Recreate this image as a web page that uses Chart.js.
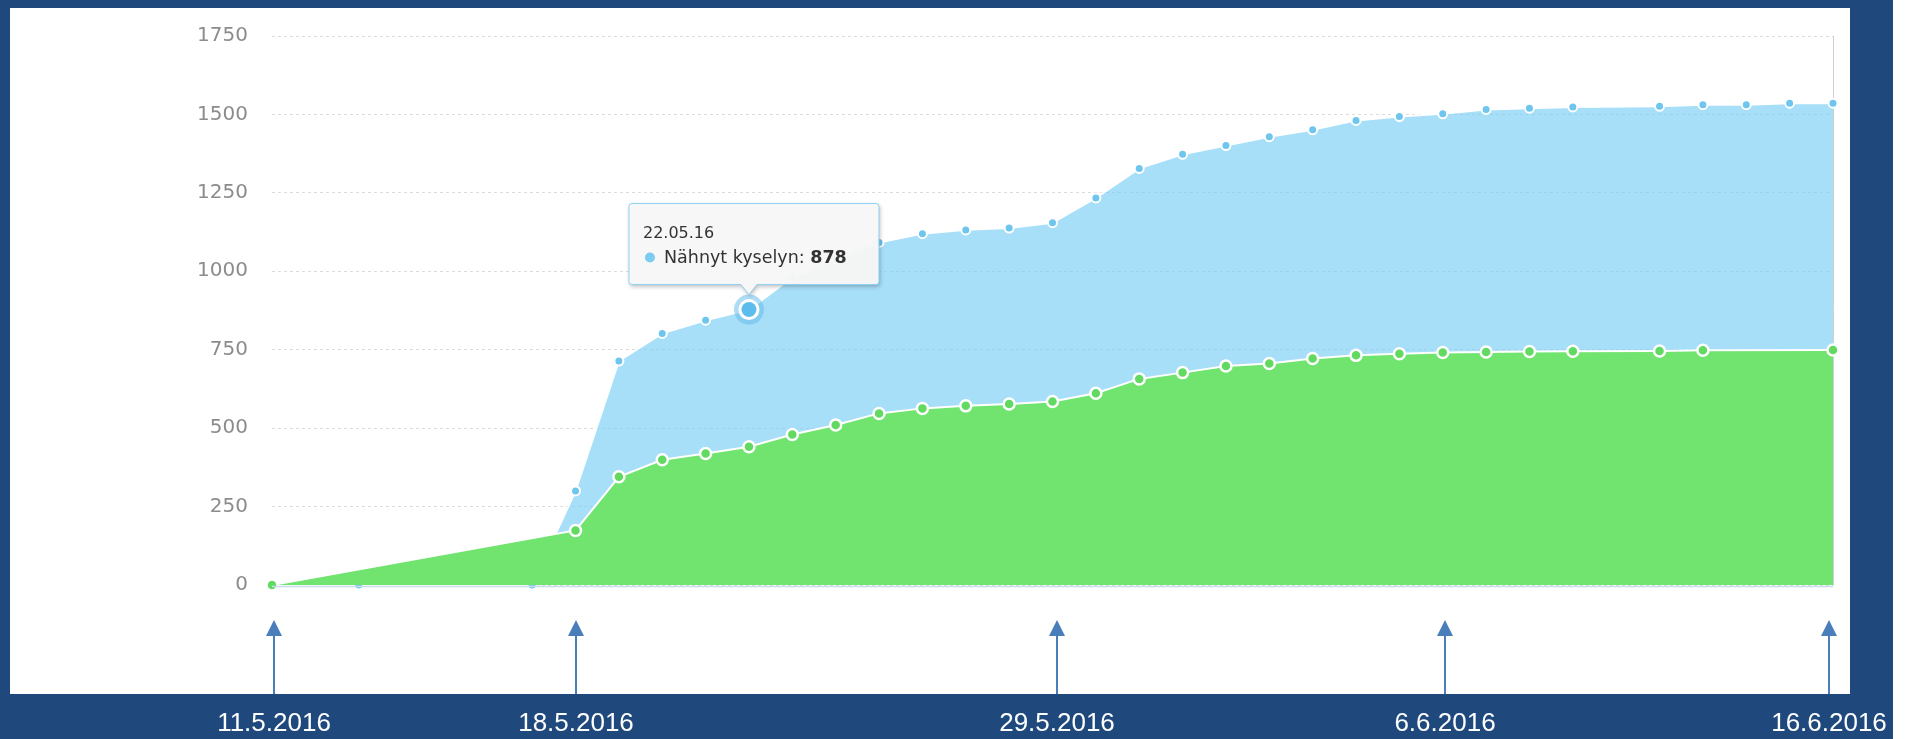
<!DOCTYPE html>
<html><head><meta charset="utf-8">
<script src="https://cdn.jsdelivr.net/npm/chart.js@4.4.1/dist/chart.umd.min.js"></script>
<style>
html,body{margin:0;padding:0;width:1914px;height:739px;overflow:hidden;background:#ffffff;}
#bg{position:absolute;left:0;top:0;width:1893px;height:739px;background:#1f497d;}
#panel{position:absolute;left:10px;top:8px;width:1840px;height:686px;background:#ffffff;}
#c{position:absolute;left:0;top:0;}
</style></head><body>
<div id="bg"></div><div id="panel"></div>
<canvas id="c" width="1914" height="739"></canvas>
<script>
// Days from 11.05.16 to 16.06.16
const dates = ['11.05.16','12.05.16','13.05.16','14.05.16','15.05.16','16.05.16','17.05.16','18.05.16','19.05.16','20.05.16',
  '21.05.16','22.05.16','23.05.16','24.05.16','25.05.16','26.05.16','27.05.16','28.05.16','29.05.16','30.05.16',
  '31.05.16','01.06.16','02.06.16','03.06.16','04.06.16','05.06.16','06.06.16','07.06.16','08.06.16','09.06.16',
  '10.06.16','11.06.16','12.06.16','13.06.16','14.06.16','15.06.16','16.06.16'];
// "Nähnyt kyselyn" (seen the survey)
const seenValues = [0,null,0,null,null,null,0,300,714,802,
  844,878,980,1040,1092,1120,1132,1138,1155,1234,
  1328,1373,1401,1429,1451,1481,1493,1502,1516,1520,
  1524,null,1526,1531,1531,1536,1536];
// answered
const answeredValues = [0,null,null,null,null,null,null,174,345,399,
  419,441,480,510,547,563,571,577,585,611,
  657,677,698,706,722,732,737,741,743,744,
  745,null,746,748,null,null,749];
const yTicks = [0,250,500,750,1000,1250,1500,1750];
const seenLabel = 'Nähnyt kyselyn';
const answeredLabel = 'Vastannut';
const tooltipIndex = 11;
const arrowLabels = ['11.5.2016','18.5.2016','29.5.2016','6.6.2016','16.6.2016'];
const arrowPositions = [0.05, 7, 18.1, 27.05, 35.9];

const overlay = {
  id:'overlay',
  beforeDatasetsDraw(chart){
    const {ctx, chartArea, scales:{x}} = chart;
    const xe = x.getPixelForValue(dates.length-1);
    ctx.save();
    ctx.strokeStyle = '#d0d0d0'; ctx.lineWidth = 1;
    ctx.beginPath(); ctx.moveTo(Math.round(xe)+0.5, chartArea.top); ctx.lineTo(Math.round(xe)+0.5, chartArea.bottom); ctx.stroke();
    ctx.restore();
  },
  afterDatasetsDraw(chart){
    const {ctx, chartArea, scales:{x,y}} = chart;
    ctx.save();
    // baseline
    const y0 = y.getPixelForValue(0);
    ctx.strokeStyle = '#c8dcec'; ctx.lineWidth = 1.5;
    ctx.beginPath(); ctx.moveTo(chartArea.left, y0+1.5); ctx.lineTo(chartArea.right, y0+1.5); ctx.stroke();

    // highlighted point
    const meta = chart.getDatasetMeta(1);
    const el = meta.data[tooltipIndex];
    const px = el.x, py = el.y;
    ctx.fillStyle = 'rgba(95,185,235,0.5)';
    ctx.beginPath(); ctx.arc(px, py, 15, 0, Math.PI*2); ctx.fill();
    ctx.fillStyle = '#ffffff';
    ctx.beginPath(); ctx.arc(px, py, 10.5, 0, Math.PI*2); ctx.fill();
    ctx.fillStyle = '#5cbdec';
    ctx.beginPath(); ctx.arc(px, py, 7.5, 0, Math.PI*2); ctx.fill();

    // tooltip
    const w = 250, h = 81;
    const cx = px + 5;
    const bottom = py - 25, top = bottom - h, left = cx - w/2, right = left + w;
    const r = 3;
    ctx.save();
    ctx.shadowColor = 'rgba(0,0,0,0.28)'; ctx.shadowOffsetX = 1; ctx.shadowOffsetY = 2; ctx.shadowBlur = 4;
    ctx.beginPath();
    ctx.moveTo(left+r, top);
    ctx.lineTo(right-r, top); ctx.quadraticCurveTo(right, top, right, top+r);
    ctx.lineTo(right, bottom-r); ctx.quadraticCurveTo(right, bottom, right-r, bottom);
    ctx.lineTo(px+8, bottom); ctx.lineTo(px, bottom+10); ctx.lineTo(px-8, bottom);
    ctx.lineTo(left+r, bottom); ctx.quadraticCurveTo(left, bottom, left, bottom-r);
    ctx.lineTo(left, top+r); ctx.quadraticCurveTo(left, top, left+r, top);
    ctx.closePath();
    ctx.fillStyle = 'rgba(249,249,249,0.96)';
    ctx.fill();
    ctx.restore();
    ctx.strokeStyle = '#8fd0f2'; ctx.lineWidth = 1;
    ctx.stroke();

    ctx.fillStyle = '#333333';
    ctx.textAlign = 'left'; ctx.textBaseline = 'alphabetic';
    ctx.font = '16px "DejaVu Sans"';
    ctx.fillText(dates[tooltipIndex], left+14, top+34);
    ctx.fillStyle = '#7ccbf0';
    ctx.beginPath(); ctx.arc(left+21, top+54, 5, 0, Math.PI*2); ctx.fill();
    ctx.fillStyle = '#333333';
    ctx.font = '17.5px "DejaVu Sans"';
    const t1 = seenLabel + ': ';
    ctx.fillText(t1, left+35, top+59);
    const tw = ctx.measureText(t1).width;
    ctx.font = 'bold 17.5px "DejaVu Sans"';
    ctx.fillText(String(seenValues[tooltipIndex]), left+35+tw, top+59);
    ctx.restore();
  },
  afterDraw(chart){
    const {ctx, scales:{x}} = chart;
    ctx.save();
    arrowPositions.forEach((pos, i) => {
      const ax = Math.round(x.getPixelForValue(pos));
      ctx.strokeStyle = '#4a7ebb'; ctx.lineWidth = 2;
      ctx.beginPath(); ctx.moveTo(ax, 634); ctx.lineTo(ax, 694); ctx.stroke();
      ctx.fillStyle = '#4a7ebb';
      ctx.beginPath(); ctx.moveTo(ax-8, 636); ctx.lineTo(ax+8, 636); ctx.lineTo(ax, 620); ctx.closePath(); ctx.fill();
      ctx.fillStyle = '#ffffff';
      ctx.font = '26px "Liberation Sans", Arial, sans-serif';
      ctx.textAlign = 'center'; ctx.textBaseline = 'alphabetic';
      ctx.fillText(arrowLabels[i], ax, 731);
    });
    ctx.restore();
  }
};

new Chart(document.getElementById('c'), {
  type:'line',
  data:{
    labels: dates,
    datasets:[
      {label: answeredLabel, data: answeredValues, fill:'origin', backgroundColor:'#70e46f',
       borderColor:'#ffffff', borderWidth:2, pointRadius:5.5, pointBorderWidth:2.5, pointBorderColor:'#ffffff',
       pointBackgroundColor:'#62da62', spanGaps:true, tension:0, clip:12},
      {label: seenLabel, data: seenValues, fill:'origin', backgroundColor:'rgba(120,205,245,0.65)',
       borderColor:'#ffffff', borderWidth:2, pointRadius:4.5, pointBorderWidth:2, pointBorderColor:'#ffffff',
       pointBackgroundColor:'#6ec6ee', spanGaps:true, tension:0, clip:12}
    ]
  },
  options:{
    responsive:false, animation:false, devicePixelRatio:1, events:[],
    layout:{padding:{left:0, top:25, right:81, bottom:154}},
    plugins:{legend:{display:false}, tooltip:{enabled:false}},
    scales:{
      x:{display:false},
      y:{min:0, max:1750,
         afterFit(s){ s.width = 272; },
         afterBuildTicks(s){ s.ticks = yTicks.map(v => ({value:v})); },
         ticks:{padding:24, color:'#8c8c8c', font:{family:'DejaVu Sans', size:20},
                callback: v => String(v)},
         grid:{color:'#dcdcdc', drawTicks:false, lineWidth:1},
         border:{display:false, dash:[3,3]}}
    }
  },
  plugins:[overlay]
});
</script>
</body></html>
